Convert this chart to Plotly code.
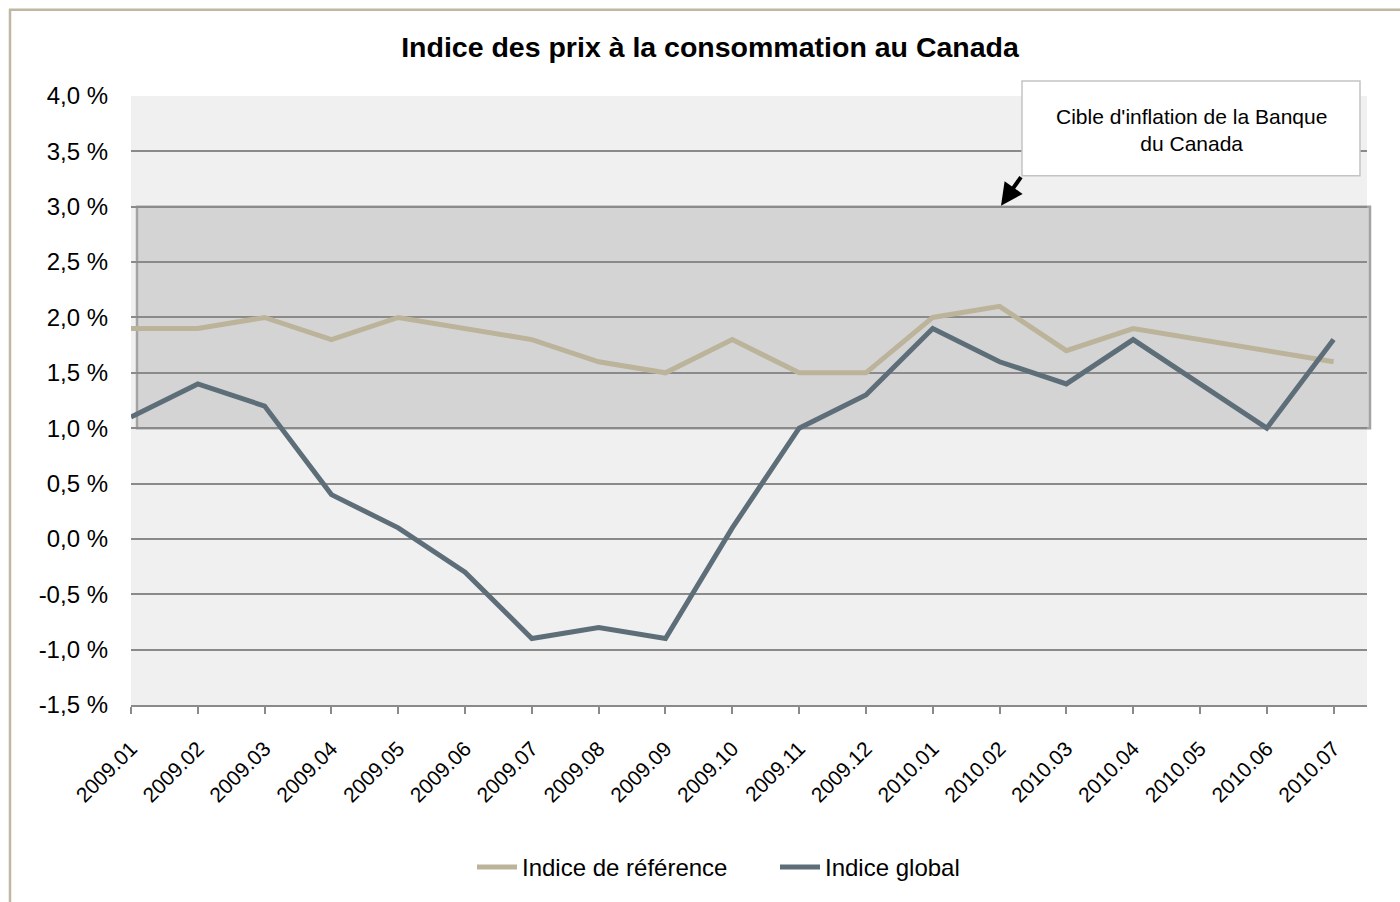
import plotly.graph_objects as go

categories = ["2009.01", "2009.02", "2009.03", "2009.04", "2009.05", "2009.06", "2009.07",
              "2009.08", "2009.09", "2009.10", "2009.11", "2009.12", "2010.01", "2010.02",
              "2010.03", "2010.04", "2010.05", "2010.06", "2010.07"]
indice_reference = [1.9, 1.9, 2.0, 1.8, 2.0, 1.9, 1.8, 1.6, 1.5, 1.8, 1.5, 1.5, 2.0, 2.1, 1.7, 1.9, 1.8, 1.7, 1.6]
indice_global = [1.1, 1.4, 1.2, 0.4, 0.1, -0.3, -0.9, -0.8, -0.9, 0.1, 1.0, 1.3, 1.9, 1.6, 1.4, 1.8, 1.4, 1.0, 1.8]
y_ticks = [-1.5, -1.0, -0.5, 0.0, 0.5, 1.0, 1.5, 2.0, 2.5, 3.0, 3.5, 4.0]
y_tick_labels = ["-1,5 %", "-1,0 %", "-0,5 %", "0,0 %", "0,5 %", "1,0 %", "1,5 %", "2,0 %",
                 "2,5 %", "3,0 %", "3,5 %", "4,0 %"]
cible_bas, cible_haut = 1.0, 3.0

W, H = 1400, 902
L, R, T, B = 131, 33, 96, 195
PW, PH = W - L - R, H - T - B

def px(x):
    return (x - L) / PW

def py(y):
    return (H - B - y) / PH

FONT = "Liberation Sans, Arial, sans-serif"

fig = go.Figure()
fig.add_trace(go.Scatter(x=categories, y=indice_reference, mode="lines", name="Indice de référence",
                         line=dict(color="#bcb39b", width=5)))
fig.add_trace(go.Scatter(x=categories, y=indice_global, mode="lines", name="Indice global",
                         line=dict(color="#5d6e79", width=5)))

shapes = [
    # inflation target band
    dict(type="rect", xref="paper", yref="y", x0=px(137), x1=px(1370), y0=cible_bas, y1=cible_haut,
         fillcolor="#d4d4d4", line=dict(color="#a3a3a3", width=2.5), layer="below"),
    # annotation box
    dict(type="rect", xref="paper", yref="paper", x0=px(1022), x1=px(1360), y0=py(176), y1=py(81),
         fillcolor="white", line=dict(color="#c4c4c4", width=1.5), layer="above"),
    # outer frame (left and top edges)
    dict(type="line", xref="paper", yref="paper", x0=px(10), x1=px(10), y0=py(9), y1=py(905),
         line=dict(color="#c0b6a1", width=2.5)),
    dict(type="line", xref="paper", yref="paper", x0=px(9), x1=px(1405), y0=py(9.5), y1=py(9.5),
         line=dict(color="#c0b6a1", width=2.5)),
]

annotations = [
    dict(text="Cible d'inflation de la Banque<br>du Canada", xref="paper", yref="paper",
         x=px(1191), y=py(130), xanchor="center", yanchor="middle", showarrow=False,
         font=dict(family=FONT, size=21, color="black")),
    dict(text="", xref="paper", yref="paper", x=px(1001), y=py(206), ax=21, ay=-30,
         showarrow=True, arrowhead=2, arrowsize=1.1, arrowwidth=4, arrowcolor="black"),
]

fig.update_layout(
    width=W, height=H,
    margin=dict(l=L, r=R, t=T, b=B),
    paper_bgcolor="white",
    plot_bgcolor="#f0f0f0",
    font=dict(family=FONT, color="black"),
    title=dict(text="<b>Indice des prix à la consommation au Canada</b>", x=710 / W, xanchor="center",
               xref="container", y=1 - 47 / H, yref="container", yanchor="middle",
               font=dict(family=FONT, size=28.5, color="black")),
    showlegend=True,
    legend=dict(orientation="h", x=px(472), xanchor="left", y=py(870), yanchor="middle",
                font=dict(family=FONT, size=24, color="black"), bgcolor="rgba(0,0,0,0)",
                itemwidth=40, tracegroupgap=0, entrywidth=248),
    shapes=shapes,
    annotations=annotations,
)

fig.update_xaxes(type="category", range=[0, len(categories) - 0.5], showgrid=False,
                 showline=True, linecolor="#8a8a8a", linewidth=2,
                 ticks="outside", tickcolor="#8a8a8a", ticklen=7, tickwidth=2,
                 tickangle=-45, tickfont=dict(family=FONT, size=21, color="black"),
                 ticklabelstandoff=14, zeroline=False)
fig.update_yaxes(range=[-1.5, 4.0], tickvals=y_ticks, ticktext=y_tick_labels,
                 showgrid=True, gridcolor="#8a8a8a", gridwidth=2, zeroline=False,
                 showline=False, ticks="", tickfont=dict(family=FONT, size=24, color="black"),
                 ticklabelstandoff=22)

fig.write_html("out.html", config={"displayModeBar": False},
               post_script="document.body.style.margin='0';")
